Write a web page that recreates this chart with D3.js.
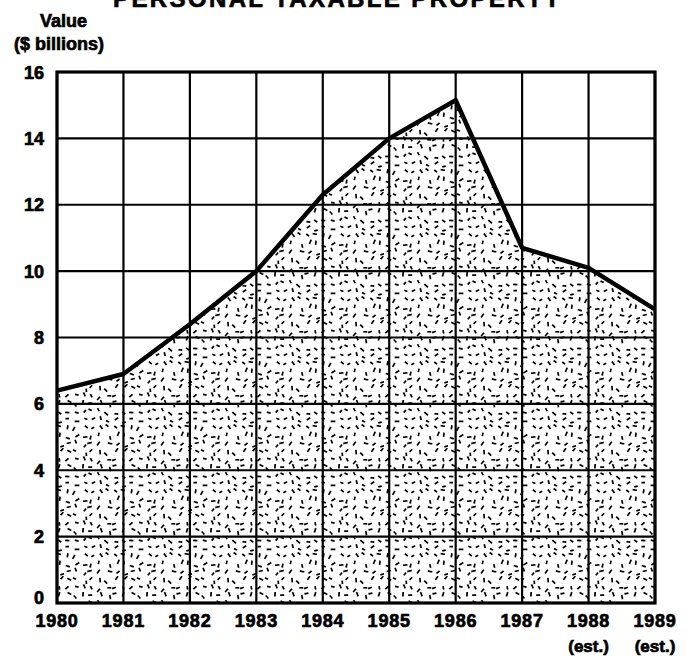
<!DOCTYPE html>
<html>
<head lang="en">
	<meta charset="UTF-8">
	<title>Personal taxable property</title>
	<style>
	body { margin: 0; background: #fff; }
	text { font-family: "Liberation Sans", Arial, sans-serif; font-weight: bold; fill: #000; stroke: #000; stroke-width: 0.7; }
	.grid line { stroke: #000; stroke-width: 2.2; }
	.frame { fill: none; stroke: #000; stroke-width: 3.2; }
	.edge { fill: none; stroke: #000; stroke-width: 4.5; stroke-linejoin: round; }
	</style>
	<script src="https://cdn.jsdelivr.net/npm/d3@7"></script>
</head>
<body>
<script>
	// values, $ billions
	var years = [1980, 1981, 1982, 1983, 1984, 1985, 1986, 1987, 1988, 1989];
	var values = [6.4, 6.9, 8.4, 10.0, 12.3, 14.0, 15.15, 10.7, 10.1, 8.85];
	var yTicks = [0, 2, 4, 6, 8, 10, 12, 14, 16];
	var estYears = [1988, 1989];

	var width = 687, height = 660;
	// note: "top" is taken by window.top, so the plot edges get their own names
	var plotL = 57, plotR = 655, plotT = 72, plotB = 603;

	var svg = d3.select("body").append("svg")
		.attr("width", width)
		.attr("height", height);

	var x = d3.scaleLinear().domain([1980, 1989]).range([plotL, plotR]);
	var y = d3.scaleLinear().domain([0, 16]).range([plotB, plotT]);

	// speckle texture - short thick dashes on a jittered grid (seeded so it is the same every run)
	var rnd = d3.randomLcg(0.42);
	var tile = 64, cell = 8;
	var pat = svg.append("defs").append("pattern")
		.attr("id", "speckle")
		.attr("patternUnits", "userSpaceOnUse")
		.attr("width", tile)
		.attr("height", tile);
	pat.append("rect").attr("width", tile).attr("height", tile).attr("fill", "#fff");
	var dashes = [];
	d3.range(tile / cell).forEach(function(r){
		d3.range(tile / cell).forEach(function(c){
			dashes.push({
				cx: c * cell + 1.5 + rnd() * (cell - 3),
				cy: r * cell + 1.5 + rnd() * (cell - 3),
				a: rnd() * Math.PI,
				l: 3.2 + rnd() * 1.6
			});
		});
	});
	pat.selectAll("line")
		.data(dashes)
		.enter().append("line")
		.attr("x1", function(d){ return d.cx - Math.cos(d.a) * d.l / 2; })
		.attr("y1", function(d){ return d.cy - Math.sin(d.a) * d.l / 2; })
		.attr("x2", function(d){ return d.cx + Math.cos(d.a) * d.l / 2; })
		.attr("y2", function(d){ return d.cy + Math.sin(d.a) * d.l / 2; })
		.attr("stroke", "#000")
		.attr("stroke-width", 1.7);

	var pts = years.map(function(d, i){ return [d, values[i]]; });

	// filled area first, grid drawn over it
	svg.append("path")
		.datum(pts)
		.attr("fill", "url(#speckle)")
		.attr("d", d3.area()
			.x(function(d){ return x(d[0]); })
			.y0(y(0))
			.y1(function(d){ return y(d[1]); }));

	var grid = svg.append("g").attr("class", "grid");
	grid.selectAll("line.h")
		.data(yTicks)
		.enter().append("line")
		.attr("class", "h")
		.attr("x1", plotL).attr("x2", plotR)
		.attr("y1", function(d){ return y(d); })
		.attr("y2", function(d){ return y(d); });
	grid.selectAll("line.v")
		.data(years)
		.enter().append("line")
		.attr("class", "v")
		.attr("y1", plotT).attr("y2", plotB)
		.attr("x1", function(d){ return x(d); })
		.attr("x2", function(d){ return x(d); });

	svg.append("rect")
		.attr("class", "frame")
		.attr("x", plotL).attr("y", plotT)
		.attr("width", plotR - plotL).attr("height", plotB - plotT);

	svg.append("path")
		.datum(pts)
		.attr("class", "edge")
		.attr("d", d3.line()
			.x(function(d){ return x(d[0]); })
			.y(function(d){ return y(d[1]); }));

	// y tick labels (the 0 sits a little higher, clear of the year labels)
	svg.selectAll("text.yt")
		.data(yTicks)
		.enter().append("text")
		.attr("class", "yt")
		.attr("x", 44)
		.attr("y", function(d){ return y(d) + (d === 0 ? 1 : 6.5); })
		.attr("text-anchor", "end")
		.attr("font-size", 18)
		.text(function(d){ return d; });

	// x tick labels
	svg.selectAll("text.xt")
		.data(years)
		.enter().append("text")
		.attr("class", "xt")
		.attr("x", function(d){ return x(d); })
		.attr("y", 627)
		.attr("text-anchor", "middle")
		.attr("font-size", 18)
		.attr("letter-spacing", 0.8)
		.text(function(d){ return d; });

	svg.selectAll("text.est")
		.data(estYears)
		.enter().append("text")
		.attr("class", "est")
		.attr("x", function(d){ return x(d); })
		.attr("y", 652)
		.attr("text-anchor", "middle")
		.attr("font-size", 17)
		.text("(est.)");

	// axis title and chart title (title is cut off at the top edge in the scan)
	svg.append("text").attr("x", 40).attr("y", 27).attr("font-size", 18).text("Value");
	svg.append("text").attr("x", 14).attr("y", 50).attr("font-size", 18).text("($ billions)");
	svg.append("text")
		.attr("x", 113).attr("y", 7)
		.attr("font-size", 24)
		.attr("textLength", 447)
		.text("PERSONAL TAXABLE PROPERTY");
</script>
</body>
</html>
